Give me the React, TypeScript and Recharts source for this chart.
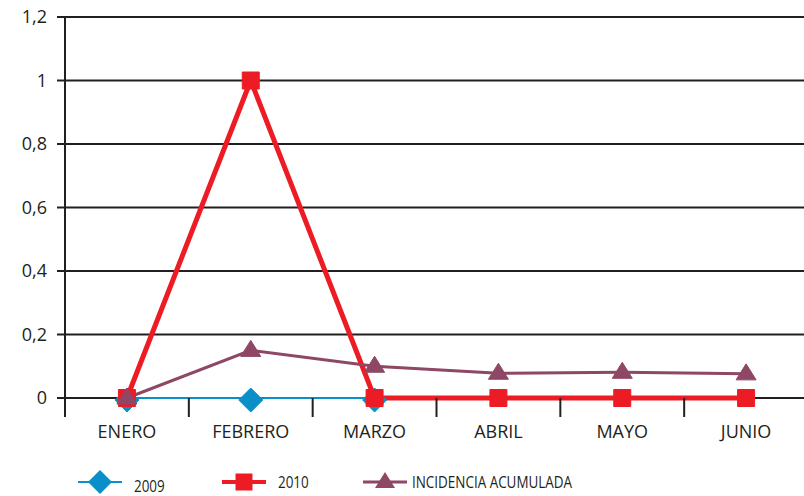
import { LineChart, Line, XAxis, YAxis, CartesianGrid } from 'recharts';

const MESES = ['ENERO', 'FEBRERO', 'MARZO', 'ABRIL', 'MAYO', 'JUNIO'];
const S2009 = [0, 0, 0, null, null, null];
const S2010 = [0, 1, 0, 0, 0, 0];
const INCIDENCIA = [0, 0.15, 0.1, 0.078, 0.081, 0.076];
const Y_TICKS = [0, 0.2, 0.4, 0.6, 0.8, 1, 1.2];
// integer = month label, half = boundary tick mark
const X_TICKS = [-0.5, 0, 0.5, 1, 1.5, 2, 2.5, 3, 3.5, 4, 4.5, 5, 5.5];

const SERIES = [
  { key: 'y2009', name: '2009', color: '#0a8fc8', width: 2, legendWidth: 2, shape: 'diamond' },
  { key: 'y2010', name: '2010', color: '#ed1c24', width: 5, legendWidth: 4, shape: 'square' },
  { key: 'incid', name: 'INCIDENCIA ACUMULADA', color: '#8e4764', width: 3, legendWidth: 3, shape: 'triangle' },
];

const DATA = MESES.map((mes, i) => ({
  i,
  mes,
  y2009: S2009[i],
  y2010: S2010[i],
  incid: INCIDENCIA[i],
}));

const INK = '#231f20';
const FONT = '"Open Sans", sans-serif';

function markerPath(shape: string, cx: number, cy: number) {
  if (shape === 'diamond') {
    const r = 12;
    return `M${cx},${cy - r}L${cx + r},${cy}L${cx},${cy + r}L${cx - r},${cy}Z`;
  }
  if (shape === 'square') {
    const r = 8.5;
    return `M${cx - r},${cy - r}H${cx + r}V${cy + r}H${cx - r}Z`;
  }
  const r = 10;
  return `M${cx},${cy - r}L${cx + r},${cy + 6}L${cx - r},${cy + 6}Z`;
}

const makeDot = (shape: string, color: string, dy = 0) => (props: any) => {
  const { cx, cy, index } = props;
  if (cx == null || cy == null || props.value == null) return <g key={index} />;
  return <path key={index} d={markerPath(shape, cx, cy + dy)} fill={color} stroke={color} strokeWidth={1} strokeLinejoin="round" />;
};

const MonthTick = (props: any) => {
  const { x, y, payload } = props;
  const v = payload.value;
  if (Number.isInteger(v)) {
    return (
      <text x={x} y={y + 40} textAnchor="middle" fontSize={18} fill={INK} fontFamily={FONT}>
        {MESES[v]}
      </text>
    );
  }
  return <line x1={x} x2={x} y1={y} y2={y + 19} stroke={INK} strokeWidth={2} />;
};

const LEGEND_X = [78, 222, 363];

export default function App() {
  return (
    <div style={{ position: 'absolute', left: 0, top: 0, width: 804, height: 496, overflow: 'hidden', background: '#fff' }}>
      <LineChart width={808} height={496} data={DATA} margin={{ top: 17, right: 0, bottom: 0, left: 0 }}>
        <CartesianGrid vertical={false} stroke={INK} strokeWidth={2} />
        <XAxis
          dataKey="i"
          type="number"
          domain={[-0.5, 5.5]}
          ticks={X_TICKS}
          interval={0}
          tickLine={false}
          tickSize={0}
          tickMargin={0}
          tick={<MonthTick />}
          axisLine={false}
          height={98}
        />
        <YAxis
          domain={[0, 1.2]}
          ticks={Y_TICKS}
          interval={0}
          width={65}
          tickSize={8}
          tickMargin={10}
          tickFormatter={(v: number) => String(v).replace('.', ',')}
          tick={{ fontSize: 18, fill: INK, fontFamily: FONT }}
          tickLine={{ stroke: INK, strokeWidth: 2 }}
          axisLine={{ stroke: INK, strokeWidth: 2 }}
        />
        {SERIES.map((s) => (
          <Line
            key={s.key}
            dataKey={s.key}
            name={s.name}
            stroke={s.color}
            strokeWidth={s.width}
            dot={makeDot(s.shape, s.color, s.shape === 'diamond' ? 2 : 0)}
            activeDot={false}
            connectNulls={false}
            isAnimationActive={false}
          />
        ))}
      </LineChart>
      {SERIES.map((s, k) => (
        <div
          key={s.key}
          style={{ position: 'absolute', left: LEGEND_X[k], top: 469, height: 26, display: 'flex', alignItems: 'center', fontFamily: FONT, fontSize: 16, color: INK, whiteSpace: 'nowrap' }}
        >
          <svg width={44} height={26}>
            <line x1={0} x2={44} y1={13} y2={13} stroke={s.color} strokeWidth={s.legendWidth} />
            <path d={markerPath(s.shape, 22, 13)} fill={s.color} />
          </svg>
          <span
            style={{
              display: 'inline-block',
              marginLeft: k === 2 ? 5 : 12,
              marginTop: k === 0 ? 8 : 0,
              transform: 'scaleX(0.84)',
              transformOrigin: 'left center',
            }}
          >
            {s.name}
          </span>
        </div>
      ))}
    </div>
  );
}
